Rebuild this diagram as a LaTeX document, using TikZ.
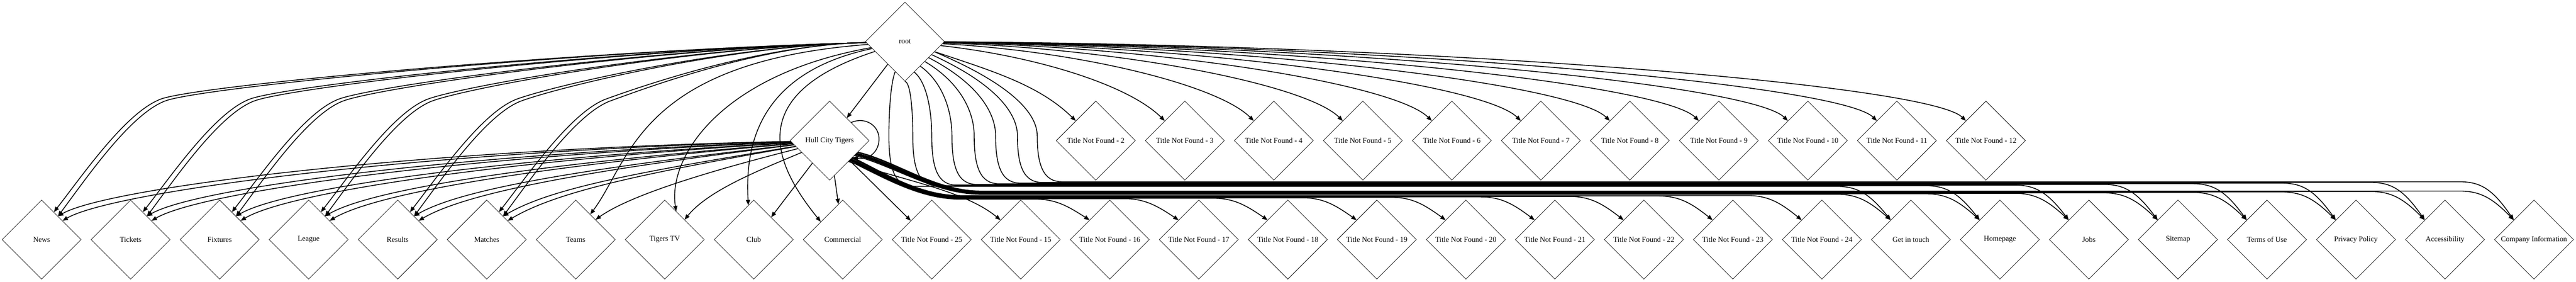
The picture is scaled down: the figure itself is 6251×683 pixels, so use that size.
\documentclass[tikz,border=0pt]{standalone}
\usepackage{fontspec}
\setmainfont{Liberation Serif}
\usetikzlibrary{shapes.geometric,arrows.meta}
\tikzset{
  dia/.style={draw, diamond, aspect=1, minimum width=192pt, minimum height=192pt,
    inner sep=0pt, line width=0.9pt, font=\fontsize{18}{20}\selectfont},
  e/.style={line width=2pt, -{Triangle[length=13pt,width=10pt]}},
}
\begin{document}
\begin{tikzpicture}[x=1pt,y=-1pt]
\useasboundingbox (0,0) rectangle (6251,683);
% nodes
\node[dia] (root) at (2196,101) {root};
\node[dia] (hull) at (2013,341) {Hull City Tigers};
\foreach \kk in {2,...,12} \node[dia] (m\kk) at ({2659+216*(\kk-2)},341) {Title Not Found - \kk};
\foreach \i/\txt in {0/News,1/Tickets,2/Fixtures,3/League,4/Results,5/Matches,6/Teams,7/Tigers TV,8/Club,9/Commercial,
  10/Title Not Found - 25,11/Title Not Found - 15,12/Title Not Found - 16,13/Title Not Found - 17,14/Title Not Found - 18,
  15/Title Not Found - 19,16/Title Not Found - 20,17/Title Not Found - 21,18/Title Not Found - 22,19/Title Not Found - 23,
  20/Title Not Found - 24,21/Get in touch,22/Homepage,23/Jobs,24/Sitemap,25/Terms of Use,26/Privacy Policy,
  27/Accessibility,28/Company Information}
  \node[dia] (b\i) at ({101+216*\i},581) {\txt};

% root -> Hull
\draw[e] (root) -- (hull);
% root -> Title Not Found 2..12
\foreach \kk in {2,...,12} {
  \pgfmathsetmacro\cx{2659+216*(\kk-2)}
  \pgfmathsetmacro\ca{2196+0.5*(\cx-48-2196)}
  \pgfmathsetmacro\cb{101+70/(\kk-1)}
  \draw[e] (root) .. controls (\ca,\cb) and ({\cx-138},205) .. (m\kk);
}
% root -> left double targets
\foreach \i in {0,...,5} {
  \pgfmathsetmacro\cx{101+216*\i}
  \pgfmathsetmacro\len{2100-(\cx+290)}
  \pgfmathsetmacro\ax{2100-0.4*\len}
  \pgfmathsetmacro\ay{101+0.012*\len}
  \foreach \off/\anc in {0/66,11/55} {
    \draw[e] (root) .. controls (\ax,\ay) and ({\cx+384+\off},{206+0.4*\off}) ..
      ({\cx+290+\off},{240+0.4*\off}) .. controls ({\cx+205+\off},{271+0.4*\off}) and ({\cx+98+\off},{427+0.4*\off}) .. (b\i.\anc);
  }
}
% Hull -> left double targets
\foreach \i in {0,...,5} {
  \pgfmathsetmacro\cx{101+216*\i}
  \pgfmathsetmacro\len{1918-\cx}
  \pgfmathsetmacro\ax{1918-0.5*\len}
  \pgfmathsetmacro\ay{361+95*(1-\len/1817)}
  \foreach \off/\anc in {0/55,10/42} {
    \draw[e] (hull) .. controls (\ax,{\ay+0.5*\off}) and ({\cx+160+\off},{455+\off}) .. (b\i.\anc);
  }
}
% root -> single left targets
\draw[e] (root) .. controls (1550,150) and (1530,390) .. (b6.60);
\draw[e] (root) .. controls (1750,180) and (1620,380) .. (b7.68);
\draw[e] (root) .. controls (1820,180) and (1810,380) .. (b8.99);
\draw[e] (root) .. controls (1800,230) and (1880,400) .. (b9.141);
% Hull -> single targets
\draw[e] (hull) .. controls (1780,400) and (1540,465) .. (b6.45);
\draw[e] (hull) .. controls (1850,410) and (1720,460) .. (b7.45);
\draw[e] (hull) -- (b8.52);
\draw[e] (hull) -- (b9.97);
\draw[e] (hull) -- (b10.138);
% Hull self loop
\draw[e] (hull.40) .. controls (2100,282) and (2135,305) .. (2133,340) .. controls (2131,372) and (2105,388) .. (hull.-36);
% root -> right targets (descending)
\foreach \jj/\ang/\sx/\xj in {0/252/2172/2157,1/270/2198/2215,2/287/2222/2261,3/302/2238/2310,
    4/315/2250/2364,5/326/2260/2416,6/334/2267/2469,7/341/2273/2517} {
  \pgfmathtruncatemacro\nn{21+\jj}
  \pgfmathsetmacro\cx{101+216*(21+\jj)}
  \pgfmathsetmacro\lane{452-1.6*\jj}
  \pgfmathsetmacro\cax{0.3*\sx+0.7*\xj}
  \draw[e] (root.\ang) .. controls (\cax,200) and (\xj,270) .. (\xj,330)
    .. controls (\xj,{\lane-40}) and ({\xj+15},\lane) .. ({\xj+60},\lane)
    -- ({\cx-180},\lane) .. controls ({\cx-130},\lane) and ({\cx-100},{\lane+18}) .. (b\nn.136);
}
% Hull -> Title Not Found 15
\draw[e] (hull.-48) .. controls (2200,440) and (2340,462) .. (b11.136);
% Hull -> Title Not Found 16..24 (lower lanes)
\foreach \nn in {12,...,20} {
  \pgfmathsetmacro\cx{101+216*\nn}
  \pgfmathsetmacro\yy{483-1.1*(\nn-12)}
  \pgfmathtruncatemacro\angh{-46+1.2*(\nn-12)}
  \pgfmathsetmacro\cy{428-1.5*(\nn-12)}
  \draw[e] (hull.\angh) .. controls (2140,\cy) and (2230,\yy) .. (2330,\yy)
    -- ({\cx-180},\yy) .. controls ({\cx-130},\yy) and ({\cx-100},{\yy+18}) .. (b\nn.136);
}
% Hull -> right targets (upper lanes)
\foreach \nn in {21,...,28} {
  \pgfmathsetmacro\cx{101+216*\nn}
  \pgfmathsetmacro\yy{471-1.1*(\nn-21)}
  \pgfmathtruncatemacro\angh{-31+1.2*(\nn-21)}
  \pgfmathsetmacro\cy{405-2*(\nn-21)}
  \draw[e] (hull.\angh) .. controls (2175,\cy) and (2270,\yy) .. (2380,\yy)
    -- ({\cx-180},\yy) .. controls ({\cx-130},\yy) and ({\cx-100},{\yy+18}) .. (b\nn.136);
}
\end{tikzpicture}
\end{document}
